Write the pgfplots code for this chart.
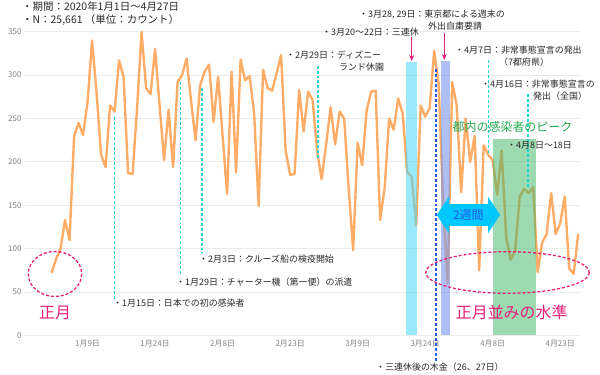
\documentclass[border=0pt]{standalone}
\usepackage{pgfplots}
\pgfplotsset{compat=1.18}
\usepackage{pgfplotstable}
\usepackage{fontspec}
\setmainfont{Noto Sans CJK JP}
\usetikzlibrary{arrows.meta}
\definecolor{lineor}{RGB}{255,172,102}
\definecolor{cyanband}{RGB}{70,215,245}
\definecolor{blueband}{RGB}{120,150,235}
\definecolor{greenband}{RGB}{60,180,100}
\definecolor{turq}{RGB}{25,215,205}
\definecolor{mag}{RGB}{230,30,120}
\definecolor{dblue}{RGB}{40,90,230}
\definecolor{gtext}{RGB}{40,170,80}
\definecolor{arrowcyan}{RGB}{0,200,255}
\definecolor{ticktext}{RGB}{130,130,130}
\definecolor{txt}{RGB}{40,40,40}

\pgfplotstableread{
d v
0 72
1 88
2 100
3 133
4 110
5 229
6 245
7 231
8 269
9 340
10 280
11 208
12 194
13 265
14 258
15 317
16 298
17 187
18 186
19 262
20 350
21 285
22 278
23 330
24 265
25 202
26 260
27 194
28 292
29 300
30 319
31 270
32 225
33 288
34 304
35 312
36 246
37 298
38 230
39 163
40 304
41 188
42 318
43 294
44 299
45 256
46 149
47 306
48 285
49 282
50 302
51 323
52 213
53 185
54 186
55 283
56 235
57 281
58 271
59 212
60 180
61 220
62 263
63 220
64 258
65 250
66 170
67 98
68 222
69 196
70 259
71 281
72 282
73 133
74 170
75 250
76 237
77 273
78 256
79 188
80 183
81 127
82 265
83 252
84 262
85 328
86 290
87 150
88 60
89 292
90 265
91 165
92 250
93 200
94 230
95 75
96 219
97 208
98 202
99 162
100 213
101 113
102 87
103 98
104 160
105 169
106 164
107 171
108 73
109 107
110 117
111 164
112 117
113 129
114 160
115 77
116 71
117 117
}\counts

\newcommand{\ann}{\fontsize{9}{10}\selectfont}
\tikzset{tdash/.style={turq, line width=1.5pt, dash pattern=on 3pt off 2pt}}
\begin{document}
\begin{tikzpicture}
\path[use as bounding box] (0,0) rectangle (600bp,375bp);
\begin{axis}[
  at={(25bp,39.6bp)}, anchor=south west,
  scale only axis, width=555bp, height=303.7bp,
  xmin=-5.9, xmax=117.4, ymin=0, ymax=350,
  clip=false,
  axis line style={draw=none},
  tick style={draw=none},
  ymajorgrids, major grid style={draw=black!8, line width=0.8pt},
  ytick={0,50,...,350},
  xtick={8,23,38,53,68,83,98,113},
  xticklabels={1月9日,1月24日,2月8日,2月23日,3月9日,3月24日,4月8日,4月23日},
  /pgf/number format/assume math mode=true,
  ticklabel style={font=\fontsize{8}{9}\selectfont, text=ticktext},
  xticklabel style={yshift=-1bp},
]
\addplot[lineor, line width=2.4pt, line join=round, no marks] table[x=d,y=v] {\counts};
% bands
\fill[cyanband, opacity=0.55] (axis cs:78.8,0) rectangle (axis cs:81.2,315);
\fill[blueband, opacity=0.6] (axis cs:86.6,0) rectangle (axis cs:88.6,316);
\fill[greenband, opacity=0.5] (axis cs:98.0,0) rectangle (axis cs:107.7,226);
% dashed markers
\draw[tdash] (axis cs:13.96,252) -- (axis cs:13.96,41);
\draw[tdash] (axis cs:28.6,292) -- (axis cs:28.6,70);
\draw[tdash] (axis cs:33.4,285) -- (axis cs:33.4,95);
\draw[tdash] (axis cs:59.2,311) -- (axis cs:59.2,204);
\draw[tdash] (axis cs:97.1,317) -- (axis cs:97.1,210);
\draw[tdash] (axis cs:105.8,278) -- (axis cs:105.8,170);
\draw[dblue, line width=1.5pt, dash pattern=on 3pt off 2pt] (axis cs:85.4,307) -- (axis cs:85.4,-29);
\end{axis}
\begin{scope}[x=1bp,y=-1bp,shift={(0bp,375bp)}]
\node[anchor=west, inner sep=0, text=txt, font=\fontsize{10.5}{11}\selectfont] at (22,7) {・期間：2020年1月1日～4月27日};
\node[anchor=west, inner sep=0, text=txt, font=\fontsize{10.5}{11}\selectfont] at (22,20) {・N：25,661 （単位：カウント）};
\node[anchor=west, inner sep=0, text=txt, font=\ann] at (113,303) {・1月15日：日本での初の感染者};
\node[anchor=west, inner sep=0, text=txt, font=\ann] at (176,282) {・1月29日：チャーター機（第一便）の派遣};
\node[anchor=west, inner sep=0, text=txt, font=\ann] at (199,259) {・2月3日：クルーズ船の検疫開始};
\node[anchor=west, inner sep=0, text=txt, font=\ann] at (286,55) {・2月29日：ディズニー};
\node[anchor=west, inner sep=0, text=txt, font=\ann] at (339,67) {ランド休園};
\node[anchor=west, inner sep=0, text=txt, font=\ann] at (322,32) {・3月20～22日：三連休};
\node[anchor=west, inner sep=0, text=txt, font=\ann] at (359,15) {・3月28, 29日：東京都による週末の};
\node[anchor=west, inner sep=0, text=txt, font=\ann] at (428,26) {外出自粛要請};
\node[anchor=west, inner sep=0, text=txt, font=\ann] at (455,50) {・4月7日：非常事態宣言の発出};
\node[anchor=west, inner sep=0, text=txt, font=\ann] at (499,62) {（7都府県）};
\node[anchor=west, inner sep=0, text=txt, font=\ann] at (481,84) {・4月16日：非常事態宣言の};
\node[anchor=west, inner sep=0, text=txt, font=\ann] at (533,96) {発出（全国）};
\node[anchor=west, inner sep=0, text=txt, font=\ann] at (507,145) {・4月8日～18日};
\node[anchor=west, inner sep=0, text=txt, font=\ann] at (376,367) {・三連休後の木金（26、27日）};
\node[inner sep=0, text=gtext, font=\fontsize{12}{13}\selectfont] at (512.5,127) {都内の感染者のピーク};
\node[inner sep=0, text=mag, font=\fontsize{16}{17}\selectfont] at (55,313) {正月};
\node[inner sep=0, text=mag, font=\fontsize{16}{17}\selectfont] at (511.7,312.5) {正月並みの水準};
\draw[mag, line width=1.3pt, dash pattern=on 3pt off 2pt] (55,274) ellipse [x radius=26.7, y radius=22.5];
\draw[mag, line width=1.3pt, dash pattern=on 3pt off 2pt] (507.5,272.5) ellipse [x radius=81.7, y radius=20.8];
\draw[mag, line width=1.3pt, -{Stealth[length=6bp,width=5bp]}] (411.7,37) -- (411.7,61);
\draw[mag, line width=1.3pt, -{Stealth[length=6bp,width=5bp]}] (444.3,33) -- (444.3,60);
\fill[arrowcyan] (436.7,215) -- (449,196.7) -- (449,204.2) -- (488,204.2) -- (488,196.7) -- (500,215) -- (488,233.3) -- (488,225.8) -- (449,225.8) -- (449,233.3) -- cycle;
\node[inner sep=0, text=dblue, font=\fontsize{12}{13}\selectfont] at (468.3,215) {2週間};
\end{scope}
\end{tikzpicture}
\end{document}
